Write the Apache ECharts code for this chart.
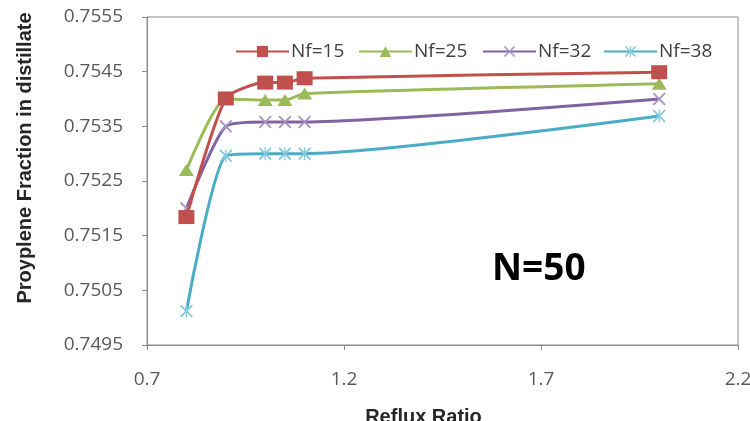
<!DOCTYPE html>
<html>
<head>
<meta charset="utf-8">
<script src="https://cdn.jsdelivr.net/npm/echarts@6/dist/echarts.min.js"></script>
<style>html,body{margin:0;padding:0;background:#fff;}#c{width:750px;height:421px;}</style>
</head>
<body>
<div id="c"></div>
<script>
const refluxRatio = [0.8, 0.9, 1.0, 1.05, 1.1, 2.0];
const nf15 = [0.75184, 0.75401, 0.75430, 0.75430, 0.75438, 0.75449];
const nf25 = [0.75270, 0.75400, 0.75398, 0.75398, 0.75410, 0.75428];
const nf32 = [0.75200, 0.75350, 0.75358, 0.75358, 0.75358, 0.75400];
const nf38 = [0.75012, 0.75296, 0.75300, 0.75300, 0.75300, 0.75369];
const seriesNames = ['Nf=15', 'Nf=25', 'Nf=32', 'Nf=38'];
const xTicks = [0.7, 1.2, 1.7, 2.2];
const yTicks = [0.7495, 0.7505, 0.7515, 0.7525, 0.7535, 0.7545, 0.7555];

const xPath = 'path://M0,1L1,0L5,4L9,0L10,1L6,5L10,9L9,10L5,6L1,10L0,9L4,5Z';
const starPath = 'path://M0,1L1,0L5,4L9,0L10,1L6,5L10,9L9,10L5,6L1,10L0,9L4,5Z M4.5,0L5.5,0L5.5,10L4.5,10Z';

const pair = arr => refluxRatio.map((x, i) => [x, arr[i]]);
const lineColors = ['#C0504D', '#9BBB59', '#8064A2', '#4BACC6'];
const markerColors = ['#C0504D', '#9BBB59', '#A893C4', '#86CBDD'];
const symbols = ['rect', 'triangle', xPath, starPath];
const sizes = [[16, 14], [15, 12], [13, 13], [13, 13]];
const datasets = [nf15, nf25, nf32, nf38];

const legendLefts = [235, 358, 482, 603];

const chart = echarts.init(document.getElementById('c'));
chart.setOption({
  animation: false,
  backgroundColor: '#fff',
  grid: { left: 147, right: 12, top: 17, bottom: 76, show: true, borderColor: '#8c8c8c', borderWidth: 1, containLabel: false, outerBoundsMode: 'none' },
  legend: seriesNames.map((n, i) => ({
    data: [n], left: legendLefts[i], top: 42, padding: 0,
    itemWidth: 53, itemHeight: 14, itemGap: 0,
    textStyle: { fontFamily: 'Open Sans', fontSize: 19, color: '#404040', padding: [0, 0, 0, -3] }
  })),
  xAxis: {
    type: 'value', min: 0.7, max: 2.2,
    name: 'Reflux Ratio', nameLocation: 'middle', nameGap: 62,
    nameTextStyle: { fontFamily: 'Liberation Sans', fontWeight: 'bold', fontSize: 20, color: '#262626', padding: [0, 38, 0, 0] },
    axisLine: { show: true, lineStyle: { color: '#8c8c8c', width: 1 } },
    axisTick: { show: true, customValues: xTicks, length: 5, inside: false, lineStyle: { color: '#8c8c8c' } },
    axisLabel: { customValues: xTicks, margin: 25, fontFamily: 'Open Sans', fontSize: 19, color: '#595959', formatter: v => (+v).toFixed(1) },
    splitLine: { show: false }
  },
  yAxis: {
    type: 'value', min: 0.7495, max: 0.7555,
    name: 'Proyplene Fraction in distillate', nameLocation: 'middle', nameGap: 112, nameRotate: 90,
    nameTextStyle: { fontFamily: 'Liberation Sans', fontWeight: 'bold', fontSize: 20, color: '#262626', padding: [0, 0, 0, 46] },
    axisLine: { show: true, lineStyle: { color: '#8c8c8c', width: 1 } },
    axisTick: { show: true, customValues: yTicks, length: 5, lineStyle: { color: '#8c8c8c' } },
    axisLabel: { customValues: yTicks, margin: 24, fontFamily: 'Open Sans', fontSize: 19, color: '#595959', formatter: v => (+v).toFixed(4) },
    splitLine: { show: false }
  },
  graphic: [{
    type: 'text', left: 492, top: 251,
    style: { text: 'N=50', fontFamily: 'Open Sans', fontWeight: 'bold', fontSize: 37, fill: '#000' }
  }],
  series: datasets.map((d, i) => ({
    type: 'line', name: seriesNames[i], data: pair(d),
    smooth: 0.2,
    symbol: symbols[i], symbolSize: sizes[i],
    lineStyle: { color: lineColors[i], width: 3 },
    itemStyle: { color: markerColors[i] },
    z: 10 - i
  }))
});
</script>
</body>
</html>
